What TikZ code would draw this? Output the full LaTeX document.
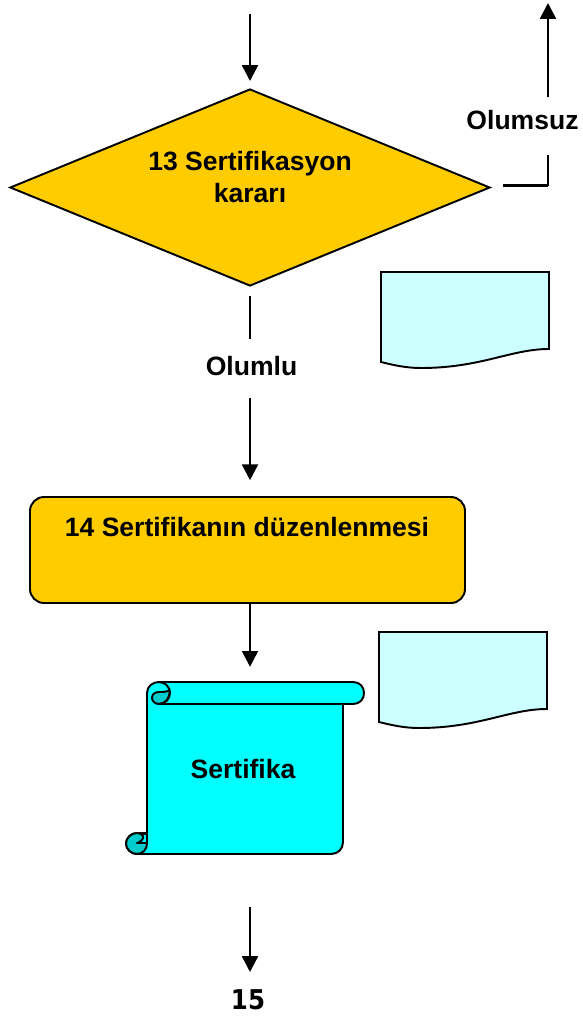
\documentclass[tikz,border=0pt]{standalone}
\usepackage{fontspec}
\setmainfont{Liberation Sans}
\newfontfamily\numfont{DejaVu Sans Condensed}
\usetikzlibrary{shapes.geometric,arrows.meta}
\definecolor{karargold}{HTML}{FFCC00}
\definecolor{belgecyan}{HTML}{CCFFFF}
\definecolor{rulocyan}{HTML}{00FFFF}
\definecolor{rulodark}{HTML}{00CCCC}
\tikzset{
    etiket/.style={font=\bfseries\fontsize{15.1}{18.2}\selectfont, align=center, inner sep=0pt},
    ok/.style={line width=1.4pt, -{Triangle[length=9pt,width=9pt]}},
    cizgi/.style={line width=1.4pt},
    belge/.style={draw=black, fill=belgecyan, line width=1.1pt},
    rulo/.style={draw=black, line width=1.1pt, line join=round}
}
\begin{document}
\begin{tikzpicture}[x=0.02cm, y=-0.02cm]
    \useasboundingbox (0,0) rectangle (582,1017);
    \node[diamond, draw, fill=karargold, line width=1.1pt, aspect=2.44, minimum width=480*0.02cm, minimum height=197*0.02cm, inner sep=0pt] (karar) at (250,187.5) {};
    \node[etiket] (kararyazi) at (250,177) {13 Sertifikasyon\\kararı};
    \node[draw, fill=karargold, line width=1.1pt, rounded corners=8pt, minimum width=435*0.02cm, minimum height=106*0.02cm] (kutu) at (247.5,550) {};
    \node[etiket] (kutuyazi) at (247,527) {14 Sertifikanın düzenlenmesi};
    % belgeler
    \foreach \bx/\by in {381/272,379/632}{
        \draw[belge] (\bx,\by) -- (\bx+168,\by) -- (\bx+168,\by+77)
            .. controls (\bx+130,\by+77) and (\bx+100,\by+96) .. (\bx+40,\by+96)
            .. controls (\bx+25,\by+96) and (\bx+12,\by+93) .. (\bx,\by+90) -- cycle;
    }
    % rulo
    \draw[rulo, fill=rulocyan] (147,693) .. controls (147,686) and (153,682) .. (159,682) -- (353,682)
        .. controls (360,682) and (364,687) .. (364,693) .. controls (364,699) and (360,704) .. (353,704)
        -- (343,704) -- (343,842) .. controls (343,849) and (338,854) .. (331,854) -- (137,854)
        .. controls (131,854) and (126,849) .. (126,843.5) .. controls (126,838) and (131,833) .. (137,833)
        -- (147,833) -- cycle;
    \draw[rulo, fill=rulodark] (159,704) .. controls (155,704) and (152,701) .. (152,698)
        .. controls (152,694) and (155,692) .. (159,692)
        .. controls (163,692) and (167,692) .. (169.5,690)
        .. controls (170.5,698) and (165,704) .. (159,704) -- cycle;
    \draw[rulo] (159,682) .. controls (165,682) and (170,687) .. (170,693) .. controls (170,699) and (165,704) .. (159,704) -- (343,704);
    \draw[rulo, fill=rulodark] (137,854) .. controls (131,854) and (126,849) .. (126,843.5) .. controls (126,838) and (131,833) .. (137,833)
        .. controls (143,833) and (147,838) .. (147,843.5) .. controls (147,849) and (143,854) .. (137,854) -- cycle;
    \draw[rulo, fill=rulocyan] (147,834) -- (141,834) .. controls (144,836) and (145,840) .. (137,843) -- (147,843) -- cycle;
    \node[etiket, minimum width=196*0.02cm, minimum height=172*0.02cm] (sertifika) at (243,769) {Sertifika};
    % baglantilar
    \coordinate (giris) at (250,14);
    \coordinate (cikis) at (548,3);
    \coordinate (kose) at (548,185.5);
    \coordinate (son) at (250,907);
    \coordinate (sonuc) at (250,972);
    \draw[ok, shorten >=4pt] (giris) -- (karar.north);
    \draw[cizgi, shorten <=7pt] (karar.east |- kose) -- (kose);
    \draw[ok] (kose) -- (cikis);
    \draw[ok, shorten <=5pt, shorten >=9pt] (karar.south) -- (karar.south |- kutu.north);
    \draw[ok, shorten >=9pt] (karar.south |- kutu.south) -- (karar.south |- sertifika.north);
    \draw[ok] (son) -- (sonuc);
    % etiketler
    \node[etiket, fill=white, anchor=base, text height=33*0.02cm, text depth=25*0.02cm] (olumsuz) at (522.5,130) {Olumsuz};
    \node[etiket, fill=white, anchor=base, text height=36*0.02cm, text depth=23*0.02cm] (olumlu) at (251.5,375) {Olumlu};
    \node[etiket, font=\numfont\bfseries\fontsize{15.5}{18}\selectfont] (onbes) at (248,1000) {15};
\end{tikzpicture}
\end{document}
